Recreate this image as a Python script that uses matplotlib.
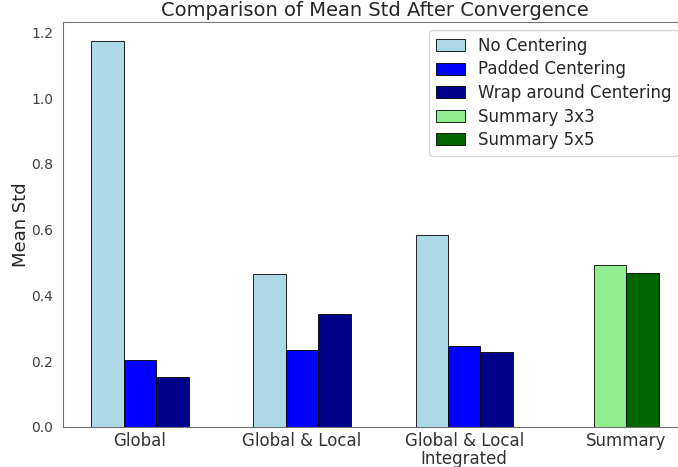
import matplotlib
matplotlib.use("Agg")
import matplotlib.pyplot as plt
import seaborn as sns
import numpy as np

sns.set_style("white")
plt.rcParams['font.family'] = ['DejaVu Sans']

categories = ["Global", "Global & Local", "Global & Local\nIntegrated", "Summary"]
no_centering = [1.173, 0.466, 0.583]
padded_centering = [0.203, 0.233, 0.246]
wrap_centering = [0.153, 0.345, 0.228]
summary_3x3 = [0.492]
summary_5x5 = [0.469]

fig = plt.figure(figsize=(6.78, 4.67), dpi=100)
ax = fig.add_axes([63/678, 40/467, 624/678, 405/467])

w = 0.2
x3 = np.arange(3)
ax.bar(x3 - w, no_centering, w, color="lightblue", edgecolor="black", linewidth=0.6, label="No Centering")
ax.bar(x3, padded_centering, w, color="blue", edgecolor="black", linewidth=0.6, label="Padded Centering")
ax.bar(x3 + w, wrap_centering, w, color="darkblue", edgecolor="black", linewidth=0.6, label="Wrap around Centering")
ax.bar([3 - w/2], summary_3x3, w, color="lightgreen", edgecolor="black", linewidth=0.6, label="Summary 3x3")
ax.bar([3 + w/2], summary_5x5, w, color="darkgreen", edgecolor="black", linewidth=0.6, label="Summary 5x5")

for s in ax.spines.values():
    s.set_color("0.45")

ax.set_xticks(np.arange(4))
ax.set_xticklabels(categories, fontsize=12, color="0.2", linespacing=1.0)
ax.tick_params(axis='x', pad=0)
ax.tick_params(axis='y', labelsize=10, labelcolor="0.25")
ax.set_ylabel("Mean Std", fontsize=13, labelpad=1, color="0.15")
ax.set_title("Comparison of Mean Std After Convergence", fontsize=14, pad=4, color="0.15")
ax.legend(fontsize=12, loc="upper right", labelspacing=0.33, handlelength=1.75)

fig.savefig("out.png", dpi=100)
